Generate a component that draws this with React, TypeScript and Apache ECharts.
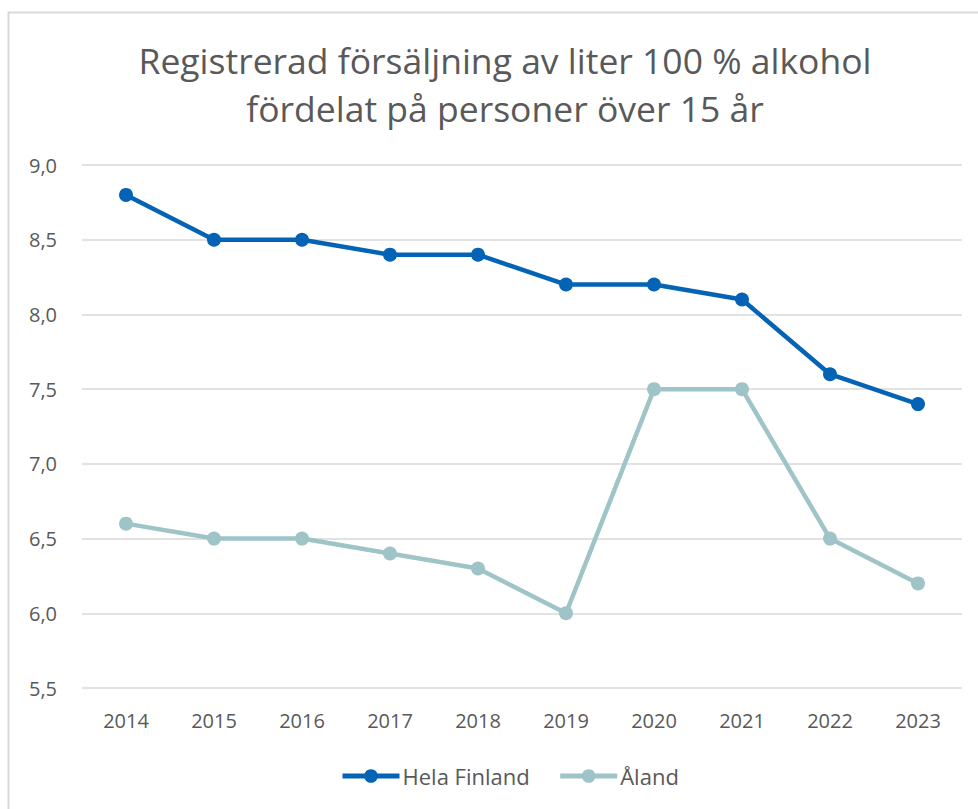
import React, { useEffect, useRef } from "react";
import * as echarts from "echarts";

const years = ["2014", "2015", "2016", "2017", "2018", "2019", "2020", "2021", "2022", "2023"];
const helaFinland = [8.8, 8.5, 8.5, 8.4, 8.4, 8.2, 8.2, 8.1, 7.6, 7.4];
const aland = [6.6, 6.5, 6.5, 6.4, 6.3, 6.0, 7.5, 7.5, 6.5, 6.2];
const titleLines = ["Registrerad försäljning av liter 100 % alkohol", "fördelat på personer över 15 år"];

const FONT = "'Open Sans', 'Noto Sans', sans-serif";
const TEXT = "#595959";

export default function App() {
  const ref = useRef<HTMLDivElement>(null);
  useEffect(() => {
    document.body.style.margin = "0";
    const chart = echarts.init(ref.current!, null, { renderer: "svg" });
    chart.setOption({
      animation: false,
      backgroundColor: "#ffffff",
      textStyle: { fontFamily: FONT },
      title: {
        text: titleLines.join("\n"),
        left: 500,
        top: 31,
        textAlign: "center",
        textStyle: { fontFamily: FONT, fontSize: 35.5, fontWeight: "normal", color: TEXT, lineHeight: 48 },
      },
      graphic: [
        {
          type: "rect",
          shape: { x: 8.5, y: 12.5, width: 980, height: 820 },
          style: { fill: "none", stroke: "#d9d9d9", lineWidth: 2 },
          silent: true,
        },
      ],
      legend: {
        bottom: 17,
        left: 335,
        itemWidth: 57,
        itemHeight: 17,
        itemGap: 28,
        lineStyle: { width: 5 },
        textStyle: { fontFamily: FONT, fontSize: 22, color: TEXT, padding: [0, 0, 0, -2] },
        data: ["Hela Finland", "Åland"],
      },
      grid: { left: 82, right: 16, top: 165, bottom: 121 },
      xAxis: {
        type: "category",
        data: years,
        boundaryGap: true,
        axisLine: { show: false },
        axisTick: { show: false },
        axisLabel: { fontFamily: FONT, fontSize: 20, color: TEXT, margin: 22 },
      },
      yAxis: {
        type: "value",
        min: 5.5,
        max: 9.0,
        interval: 0.5,
        axisLine: { show: false },
        axisTick: { show: false },
        splitLine: { lineStyle: { color: "#d9d9d9", width: 1.5 } },
        axisLabel: {
          fontFamily: FONT,
          fontSize: 20,
          color: TEXT,
          margin: 25,
          formatter: (v: number) => v.toFixed(1).replace(".", ","),
        },
      },
      series: [
        {
          name: "Hela Finland",
          type: "line",
          data: helaFinland,
          symbol: "circle",
          symbolSize: 14,
          lineStyle: { color: "#0563b5", width: 4.5 },
          itemStyle: { color: "#0563b5" },
        },
        {
          name: "Åland",
          type: "line",
          data: aland,
          symbol: "circle",
          symbolSize: 14,
          lineStyle: { color: "#9fc4c8", width: 4.5 },
          itemStyle: { color: "#9fc4c8" },
        },
      ],
    });
    return () => chart.dispose();
  }, []);
  return <div ref={ref} style={{ width: 978, height: 809, position: "absolute", left: 0, top: 0 }} />;
}
